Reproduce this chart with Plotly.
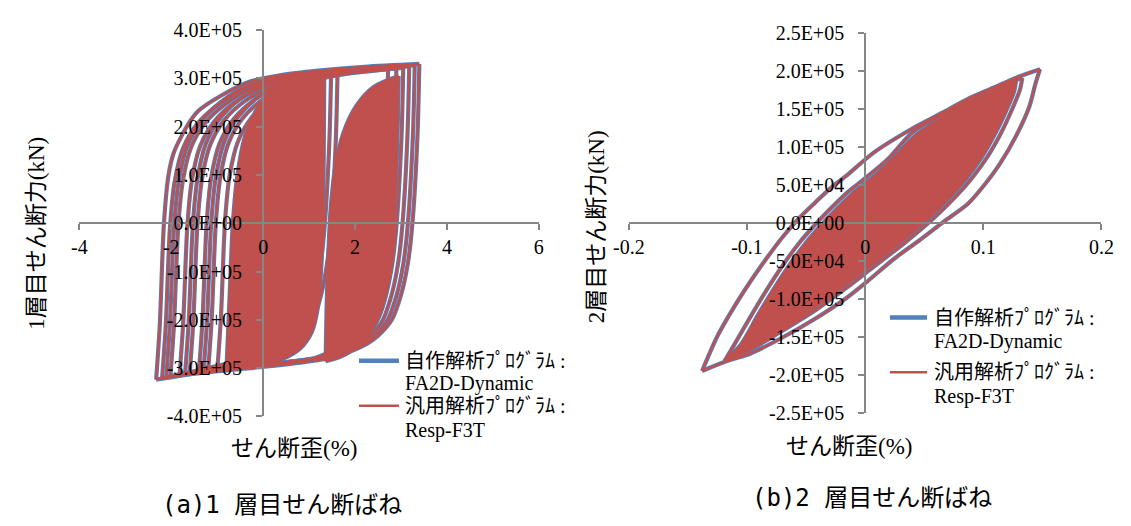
import plotly.graph_objects as go

BLUE = "#4F81BD"
RED = "#C0504D"
AXIS = "#868686"
SERIF = "Liberation Serif, Tinos, Times New Roman, serif"
SERIF_JP = "Liberation Serif, Tinos, Times New Roman, Noto Sans CJK JP, serif"
CAP = "DejaVu Sans Mono, Noto Sans CJK JP, monospace"

W, H = 1131, 526

# ---------------- (a) 1層目せん断ばね : shear strain (%) / shear force (kN) ----------------
# outer loop
a_outer_up_strain = [-2.33, -2.25, -2.16, -2.06, -1.95, -1.77, -1.60, -1.42, -0.92, -0.30, 0.40, 1.20, 2.20, 3.40]
a_outer_up_force = [-3.24e5, -2.10e5, 0.0, 1.00e5, 1.45e5, 1.82e5, 2.10e5, 2.32e5, 2.64e5, 2.93e5, 3.07e5, 3.16e5, 3.24e5, 3.30e5]
a_outer_dn_strain = [3.40, 3.36, 3.25, 3.15, 3.00, 2.79, 2.40, 1.84, 1.34, 0.35, -0.70, -1.60, -2.33]
a_outer_dn_force = [3.30e5, 1.82e5, 0.0, -0.83e5, -1.49e5, -2.02e5, -2.41e5, -2.68e5, -2.81e5, -2.94e5, -3.04e5, -3.13e5, -3.24e5]
# intermediate loops
a_s1_up_strain = [-2.20, -2.12, -2.03, -1.93, -1.75, -1.45, -1.00, -0.30, 0.40, 1.20, 2.20, 3.30]
a_s1_up_force = [-3.21e5, -2.11e5, -0.11e5, 0.84e5, 1.54e5, 2.04e5, 2.44e5, 2.84e5, 3.02e5, 3.12e5, 3.21e5, 3.27e5]
a_s1_dn_strain = [3.30, 3.26, 3.15, 3.05, 2.90, 2.69, 2.30, 1.74, 1.00, 0.00, -1.00, -1.80, -2.20]
a_s1_dn_force = [3.27e5, 1.80e5, -0.02e5, -0.85e5, -1.51e5, -2.04e5, -2.43e5, -2.70e5, -2.83e5, -2.93e5, -3.03e5, -3.13e5, -3.21e5]
a_s2_up_strain = [-2.02, -1.94, -1.85, -1.75, -1.57, -1.27, -0.82, -0.20, 0.50, 1.50, 3.18]
a_s2_up_force = [-3.18e5, -2.08e5, -0.08e5, 0.87e5, 1.57e5, 2.07e5, 2.47e5, 2.82e5, 3.00e5, 3.13e5, 3.25e5]
a_s2_dn_strain = [3.18, 3.14, 3.03, 2.93, 2.78, 2.57, 2.18, 1.62, 1.00, 0.00, -1.00, -2.02]
a_s2_dn_force = [3.25e5, 1.77e5, -0.05e5, -0.88e5, -1.54e5, -2.07e5, -2.46e5, -2.72e5, -2.82e5, -2.93e5, -3.04e5, -3.18e5]
a_s3_up_strain = [-1.82, -1.74, -1.65, -1.55, -1.37, -1.07, -0.62, 0.00, 0.70, 1.60, 3.05]
a_s3_up_force = [-3.15e5, -2.05e5, -0.05e5, 0.90e5, 1.60e5, 2.10e5, 2.50e5, 2.82e5, 3.00e5, 3.12e5, 3.22e5]
a_s3_dn_strain = [3.05, 3.01, 2.90, 2.80, 2.65, 2.44, 2.05, 1.49, 0.90, 0.00, -1.00, -1.82]
a_s3_dn_force = [3.22e5, 1.74e5, -0.08e5, -0.91e5, -1.57e5, -2.10e5, -2.49e5, -2.75e5, -2.84e5, -2.94e5, -3.04e5, -3.15e5]
a_s4_up_strain = [-1.60, -1.52, -1.43, -1.33, -1.15, -0.85, -0.40, 0.20, 0.90, 1.80, 2.90]
a_s4_up_force = [-3.12e5, -2.02e5, -0.02e5, 0.93e5, 1.63e5, 2.13e5, 2.53e5, 2.83e5, 3.00e5, 3.12e5, 3.20e5]
a_s4_dn_strain = [2.90, 2.86, 2.75, 2.65, 2.50, 2.29, 1.90, 1.34, 0.80, 0.00, -0.90, -1.60]
a_s4_dn_force = [3.20e5, 1.72e5, -0.10e5, -0.93e5, -1.59e5, -2.12e5, -2.51e5, -2.77e5, -2.85e5, -2.94e5, -3.03e5, -3.12e5]
a_s5_up_strain = [-1.40, -1.32, -1.23, -1.13, -0.95, -0.65, -0.20, 0.40, 1.00, 1.62]
a_s5_up_force = [-3.10e5, -2.00e5, 0.0, 0.95e5, 1.65e5, 2.15e5, 2.55e5, 2.85e5, 3.02e5, 3.16e5]
a_s5_dn_strain = [1.62, 1.58, 1.47, 1.37, 1.22, 1.01, 0.62, 0.06, -0.60, -1.40]
a_s5_dn_force = [3.16e5, 1.68e5, -0.14e5, -0.97e5, -1.63e5, -2.16e5, -2.55e5, -2.81e5, -2.95e5, -3.10e5]
a_s6_up_strain = [-1.20, -1.12, -1.03, -0.93, -0.75, -0.45, 0.00, 0.55, 1.00, 1.48]
a_s6_up_force = [-3.08e5, -1.98e5, 0.02e5, 0.97e5, 1.67e5, 2.17e5, 2.57e5, 2.86e5, 3.00e5, 3.14e5]
a_s6_dn_strain = [1.48, 1.44, 1.33, 1.23, 1.08, 0.87, 0.48, -0.08, -0.60, -1.20]
a_s6_dn_force = [3.14e5, 1.66e5, -0.16e5, -0.99e5, -1.65e5, -2.18e5, -2.57e5, -2.83e5, -2.95e5, -3.08e5]
a_s7_up_strain = [-1.00, -0.92, -0.83, -0.73, -0.55, -0.25, 0.20, 0.80, 1.60, 2.72]
a_s7_up_force = [-3.06e5, -1.96e5, 0.04e5, 0.99e5, 1.69e5, 2.19e5, 2.59e5, 2.88e5, 3.06e5, 3.19e5]
a_s7_dn_strain = [2.72, 2.68, 2.57, 2.47, 2.32, 2.11, 1.72, 1.16, 0.50, -0.30, -1.00]
a_s7_dn_force = [3.19e5, 1.71e5, -0.11e5, -0.94e5, -1.60e5, -2.13e5, -2.52e5, -2.78e5, -2.88e5, -2.97e5, -3.06e5]
a_s8_up_strain = [-2.11, -2.03, -1.94, -1.84, -1.66, -1.36, -0.91, -0.30, 0.40, 1.00]
a_s8_up_force = [-3.19e5, -2.09e5, -0.09e5, 0.86e5, 1.58e5, 2.10e5, 2.52e5, 2.86e5, 3.03e5, 3.12e5]
a_s8_dn_strain = [1.00, 0.96, 0.85, 0.75, 0.60, 0.39, 0.00, -0.56, -1.20, -2.11]
a_s8_dn_force = [3.12e5, 1.64e5, -0.18e5, -1.01e5, -1.67e5, -2.20e5, -2.59e5, -2.85e5, -3.00e5, -3.19e5]
a_s9_up_strain = [-1.70, -1.62, -1.53, -1.43, -1.25, -0.95, -0.50, 0.10, 0.80]
a_s9_up_force = [-3.13e5, -2.03e5, -0.03e5, 0.92e5, 1.64e5, 2.16e5, 2.58e5, 2.90e5, 3.06e5]
a_s9_dn_strain = [0.80, 0.76, 0.65, 0.55, 0.40, 0.19, -0.20, -0.76, -1.25, -1.70]
a_s9_dn_force = [3.06e5, 1.58e5, -0.24e5, -1.07e5, -1.73e5, -2.26e5, -2.65e5, -2.91e5, -3.03e5, -3.13e5]
a_s10_up_strain = [-1.30, -1.22, -1.13, -1.03, -0.85, -0.55, -0.10, 0.50, 1.20]
a_s10_up_force = [-3.09e5, -1.99e5, 0.01e5, 0.96e5, 1.68e5, 2.20e5, 2.62e5, 2.92e5, 3.09e5]
a_s10_dn_strain = [1.20, 1.16, 1.05, 0.95, 0.80, 0.59, 0.20, -0.36, -0.80, -1.30]
a_s10_dn_force = [3.09e5, 1.61e5, -0.21e5, -1.04e5, -1.70e5, -2.23e5, -2.62e5, -2.88e5, -2.98e5, -3.09e5]
# densely repeated small loops (solid regions)
a_c1_up_strain = [-0.80, -0.73, -0.66, -0.56, -0.38, -0.05, 0.40, 0.85, 1.33]
a_c1_up_force = [-3.04e5, -1.50e5, 0.0, 1.00e5, 1.85e5, 2.50e5, 2.90e5, 3.06e5, 3.14e5]
a_c1_dn_strain = [1.33, 1.32, 1.30, 1.26, 1.19, 1.06, 0.80, 0.40, -0.15, -0.80]
a_c1_dn_force = [3.14e5, 1.50e5, 0.0, -1.00e5, -1.75e5, -2.25e5, -2.60e5, -2.82e5, -2.94e5, -3.04e5]
a_c2_up_strain = [1.36, 1.38, 1.42, 1.47, 1.56, 1.74, 2.02, 2.40, 2.95]
a_c2_up_force = [-2.86e5, -1.80e5, -0.60e5, 0.30e5, 1.10e5, 1.85e5, 2.42e5, 2.82e5, 3.05e5]
a_c2_dn_strain = [2.95, 2.93, 2.89, 2.83, 2.73, 2.56, 2.30, 1.95, 1.65, 1.36]
a_c2_dn_force = [3.05e5, 2.00e5, 0.80e5, -0.30e5, -1.20e5, -1.85e5, -2.30e5, -2.62e5, -2.78e5, -2.86e5]

# ---------------- (b) 2層目せん断ばね ----------------
b_outer_up_strain = [-0.138, -0.125, -0.111, -0.097, -0.084, -0.070, -0.056, -0.042, -0.029, -0.015, 0.007, 0.040, 0.065, 0.087, 0.109, 0.128, 0.148]
b_outer_up_force = [-1.95e5, -1.49e5, -1.11e5, -0.77e5, -0.48e5, -0.19e5, 0.06e5, 0.27e5, 0.46e5, 0.63e5, 0.92e5, 1.24e5, 1.445e5, 1.63e5, 1.78e5, 1.91e5, 2.02e5]
b_outer_dn_strain = [0.148, 0.144, 0.139, 0.128, 0.114, 0.100, 0.087, 0.067, 0.046, 0.024, 0.002, -0.015, -0.042, -0.070, -0.097, -0.117, -0.138]
b_outer_dn_force = [2.02e5, 1.82e5, 1.53e5, 1.15e5, 0.775e5, 0.48e5, 0.25e5, 0.02e5, -0.23e5, -0.48e5, -0.77e5, -0.98e5, -1.26e5, -1.51e5, -1.72e5, -1.82e5, -1.95e5]
b_in_up_strain = [-0.119, -0.111, -0.097, -0.084, -0.070, -0.056, -0.042, -0.029, -0.015, 0.002, 0.020, 0.040, 0.065, 0.087, 0.109, 0.133]
b_in_up_force = [-1.82e5, -1.61e5, -1.235e5, -0.90e5, -0.565e5, -0.27e5, -0.02e5, 0.19e5, 0.40e5, 0.61e5, 0.85e5, 1.19e5, 1.42e5, 1.60e5, 1.76e5, 1.906e5]
b_in_dn_strain = [0.133, 0.131, 0.124, 0.115, 0.104, 0.091, 0.077, 0.058, 0.033, 0.008, -0.017, -0.042, -0.070, -0.097, -0.119]
b_in_dn_force = [1.906e5, 1.75e5, 1.48e5, 1.18e5, 0.88e5, 0.60e5, 0.35e5, 0.06e5, -0.27e5, -0.57e5, -0.87e5, -1.15e5, -1.42e5, -1.67e5, -1.82e5]
b_c_up_strain = [-0.119, -0.1055, -0.0915, -0.0785, -0.0645, -0.0505, -0.0365, -0.0235, -0.0095, 0.0075, 0.024, 0.042, 0.065, 0.087, 0.109, 0.128]
b_c_up_force = [-1.82e5, -1.61e5, -1.235e5, -0.90e5, -0.565e5, -0.27e5, -0.02e5, 0.19e5, 0.40e5, 0.61e5, 0.85e5, 1.14e5, 1.38e5, 1.57e5, 1.73e5, 1.90e5]
b_c_dn_strain = [0.128, 0.126, 0.119, 0.110, 0.099, 0.086, 0.072, 0.053, 0.028, 0.003, -0.022, -0.046, -0.073, -0.099, -0.119]
b_c_dn_force = [1.90e5, 1.72e5, 1.46e5, 1.17e5, 0.87e5, 0.59e5, 0.34e5, 0.05e5, -0.28e5, -0.58e5, -0.88e5, -1.15e5, -1.42e5, -1.66e5, -1.82e5]

# ---------------- ticks / texts ----------------
a_x_ticks = [-4, -2, 0, 2, 4, 6]
a_x_ticktext = ["-4", "-2", "0", "2", "4", "6"]
a_y_ticks = [-4e5, -3e5, -2e5, -1e5, 0, 1e5, 2e5, 3e5, 4e5]
a_y_ticktext = ["-4.0E+05", "-3.0E+05", "-2.0E+05", "-1.0E+05", "0.0E+00", "1.0E+05", "2.0E+05", "3.0E+05", "4.0E+05"]
b_x_ticks = [-0.2, -0.1, 0, 0.1, 0.2]
b_x_ticktext = ["-0.2", "-0.1", "0", "0.1", "0.2"]
b_y_ticks = [-2.5e5, -2.0e5, -1.5e5, -1.0e5, -0.5e5, 0, 0.5e5, 1.0e5, 1.5e5, 2.0e5, 2.5e5]
b_y_ticktext = ["-2.5E+05", "-2.0E+05", "-1.5E+05", "-1.0E+05", "-5.0E+04", "0.0E+00",
                "5.0E+04", "1.0E+05", "1.5E+05", "2.0E+05", "2.5E+05"]
series_names = ["自作解析ﾌﾟﾛｸﾞﾗﾑ : FA2D-Dynamic", "汎用解析ﾌﾟﾛｸﾞﾗﾑ : Resp-F3T"]
legend_lines = ["自作解析ﾌﾟﾛｸﾞﾗﾑ :", "FA2D-Dynamic", "汎用解析ﾌﾟﾛｸﾞﾗﾑ :", "Resp-F3T"]
x_title = "せん断歪(%)"
a_y_title = "1層目せん断力(kN)"
b_y_title = "2層目せん断力(kN)"
a_caption = "(a)1 層目せん断ばね"
b_caption = "(b)2 層目せん断ばね"


def join(*branches):
    out = []
    for i, b in enumerate(branches):
        if i:
            out.append(None)
        out.extend(b)
    return out


a_line_x = join(a_outer_up_strain, a_outer_dn_strain, a_s1_up_strain, a_s1_dn_strain, a_s2_up_strain, a_s2_dn_strain,
                a_s3_up_strain, a_s3_dn_strain, a_s4_up_strain, a_s4_dn_strain, a_s5_up_strain, a_s5_dn_strain,
                a_s6_up_strain, a_s6_dn_strain, a_s7_up_strain, a_s7_dn_strain, a_s8_up_strain, a_s8_dn_strain,
                a_s9_up_strain, a_s9_dn_strain, a_s10_up_strain, a_s10_dn_strain)
a_line_y = join(a_outer_up_force, a_outer_dn_force, a_s1_up_force, a_s1_dn_force, a_s2_up_force, a_s2_dn_force,
                a_s3_up_force, a_s3_dn_force, a_s4_up_force, a_s4_dn_force, a_s5_up_force, a_s5_dn_force,
                a_s6_up_force, a_s6_dn_force, a_s7_up_force, a_s7_dn_force, a_s8_up_force, a_s8_dn_force,
                a_s9_up_force, a_s9_dn_force, a_s10_up_force, a_s10_dn_force)
a_core_x = join(a_c1_up_strain, a_c1_dn_strain, a_c2_up_strain, a_c2_dn_strain)
a_core_y = join(a_c1_up_force, a_c1_dn_force, a_c2_up_force, a_c2_dn_force)

b_line_x = join(b_outer_up_strain, b_outer_dn_strain, b_in_up_strain, b_in_dn_strain)
b_line_y = join(b_outer_up_force, b_outer_dn_force, b_in_up_force, b_in_dn_force)
b_core_x = join(b_c_up_strain, b_c_dn_strain)
b_core_y = join(b_c_up_force, b_c_dn_force)

fig = go.Figure()


def add_panel(line_x, line_y, core_x, core_y, xa, ya):
    # FA2D-Dynamic (blue, drawn underneath)
    fig.add_trace(go.Scatter(x=line_x + [None] + core_x, y=line_y + [None] + core_y, mode="lines",
                             line=dict(color=BLUE, width=4.2, shape="spline", smoothing=0.8),
                             name=series_names[0], xaxis=xa, yaxis=ya, showlegend=False, hoverinfo="skip"))
    # Resp-F3T (red)
    fig.add_trace(go.Scatter(x=core_x, y=core_y, mode="lines", fill="toself", fillcolor=RED,
                             line=dict(color=RED, width=2.4, shape="spline", smoothing=0.8),
                             name=series_names[1], xaxis=xa, yaxis=ya, showlegend=False, hoverinfo="skip"))
    fig.add_trace(go.Scatter(x=line_x, y=line_y, mode="lines",
                             line=dict(color=RED, width=2.4, shape="spline", smoothing=0.8),
                             name=series_names[1], xaxis=xa, yaxis=ya, showlegend=False, hoverinfo="skip"))


add_panel(a_line_x, a_line_y, a_core_x, a_core_y, "x", "y")
add_panel(b_line_x, b_line_y, b_core_x, b_core_y, "x2", "y2")

tickfont = dict(family=SERIF, size=20, color="black")
common = dict(showgrid=False, zeroline=False, showline=True, linecolor=AXIS, linewidth=2,
              ticks="outside", ticklen=6, tickwidth=2, tickcolor=AXIS, tickfont=tickfont,
              anchor="free", tickmode="array")

fig.update_layout(
    width=W, height=H, margin=dict(l=0, r=0, t=0, b=0),
    paper_bgcolor="white", plot_bgcolor="white", showlegend=False,
    xaxis=dict(domain=[65.1 / W, 536.5 / W], range=[-4, 6], position=1 - 221.6 / H,
               tickvals=a_x_ticks, ticktext=a_x_ticktext, ticklabelstandoff=0, **common),
    yaxis=dict(domain=[1 - 423 / H, 1 - 20 / H], range=[-4e5, 4e5], position=253.5 / W,
               tickvals=a_y_ticks, ticktext=a_y_ticktext, ticklabelstandoff=10, **common),
    xaxis2=dict(domain=[629 / W, 1114 / W], range=[-0.2, 0.2], position=1 - 221.7 / H,
                tickvals=b_x_ticks, ticktext=b_x_ticktext, ticklabelstandoff=0, **common),
    yaxis2=dict(domain=[1 - 419.3 / H, 1 - 22.7 / H], range=[-2.5e5, 2.5e5], position=871.5 / W,
                tickvals=b_y_ticks, ticktext=b_y_ticktext, ticklabelstandoff=10, **common),
)


def ann(text, px, py, size, family=SERIF_JP, xanchor="center", angle=0):
    fig.add_annotation(text=text, x=px / W, y=1 - py / H, xref="paper", yref="paper",
                       showarrow=False, xanchor=xanchor, yanchor="middle", textangle=angle,
                       font=dict(family=family, size=size, color="black"))


# axis titles
ann(x_title, 285, 457, 23)
ann(x_title, 855, 455, 23)
ann(a_y_title, 21, 232, 23, angle=-90)
ann(b_y_title, 596, 225, 23, angle=-90)
# captions
ann(a_caption, 273, 516, 24, family=CAP)
ann(b_caption, 879, 508, 24, family=CAP)

# legends (one per panel)
for (lx0, lx1, tx, ys) in [(352, 393, 397, (365, 389, 412, 438)), (897, 935, 940, (320, 345, 377, 402))]:
    fig.add_shape(type="line", xref="paper", yref="paper", x0=lx0 / W, x1=lx1 / W,
                  y0=1 - ys[0] / H, y1=1 - ys[0] / H, line=dict(color=BLUE, width=4.5))
    fig.add_shape(type="line", xref="paper", yref="paper", x0=lx0 / W, x1=lx1 / W,
                  y0=1 - ys[2] / H, y1=1 - ys[2] / H, line=dict(color=RED, width=2.5))
    for txt, yy in zip(legend_lines, ys):
        ann(txt, tx, yy, 20, xanchor="left")

fig.write_html("out.html")
